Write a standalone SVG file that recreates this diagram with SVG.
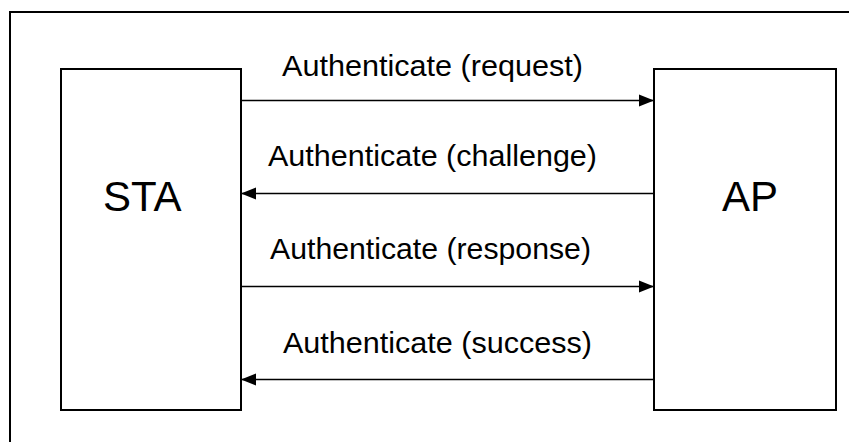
<svg xmlns="http://www.w3.org/2000/svg" width="849" height="442" viewBox="0 0 849 442">
  <style>
    .frame { fill: none; stroke: #000; stroke-width: 2; }
    .box { fill: #fff; stroke: #000; stroke-width: 2; }
    .node-label { font-family: "Liberation Sans", Arial, sans-serif; font-size: 42px; fill: #000; }
    .msg { font-family: "Liberation Sans", Arial, sans-serif; font-size: 30px; fill: #000; }
    .link { stroke: #000; stroke-width: 1.5; fill: none; }
  </style>
  <defs>
    <marker id="arrow" markerUnits="userSpaceOnUse" markerWidth="16" markerHeight="14" refX="15" refY="7" orient="auto">
      <path d="M0,1 L15,7 L0,13 Z" fill="#000"/>
    </marker>
  </defs>

  <rect width="849" height="442" fill="#fff"/>

  <!-- outer frame, open to the right and bottom -->
  <path class="frame" d="M10,442 V12 H849"/>

  <g id="sta">
    <rect class="box" x="61" y="69" width="180" height="341"/>
    <text class="node-label" x="103" y="211">STA</text>
  </g>

  <g id="ap">
    <rect class="box" x="654" y="69" width="182" height="341"/>
    <text class="node-label" x="722" y="211">AP</text>
  </g>

  <g id="connectors">
    <line class="link" x1="241" y1="100.5" x2="654" y2="100.5" marker-end="url(#arrow)"/>
    <line class="link" x1="654" y1="193.5" x2="241" y2="193.5" marker-end="url(#arrow)"/>
    <line class="link" x1="241" y1="286.5" x2="654" y2="286.5" marker-end="url(#arrow)"/>
    <line class="link" x1="654" y1="379.5" x2="241" y2="379.5" marker-end="url(#arrow)"/>
  </g>

  <g id="labels">
    <text class="msg" x="282" y="76" textLength="301" lengthAdjust="spacingAndGlyphs">Authenticate (request)</text>
    <text class="msg" x="268" y="166" textLength="329" lengthAdjust="spacingAndGlyphs">Authenticate (challenge)</text>
    <text class="msg" x="270" y="259" textLength="321" lengthAdjust="spacingAndGlyphs">Authenticate (response)</text>
    <text class="msg" x="283" y="353" textLength="309" lengthAdjust="spacingAndGlyphs">Authenticate (success)</text>
  </g>
</svg>
